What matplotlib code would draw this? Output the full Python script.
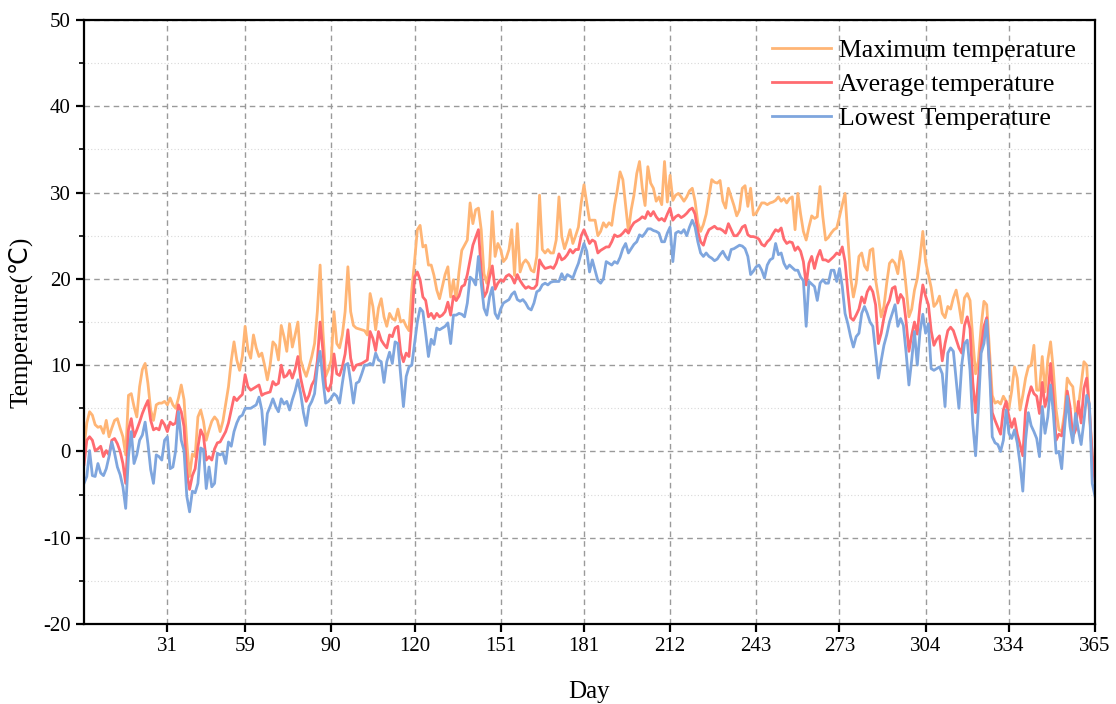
import numpy as np
import matplotlib.pyplot as plt
from matplotlib.ticker import MultipleLocator

# Daily temperatures over one year (day 1 .. 365)
days = np.arange(1, 366)

max_temp = [
    0.5, 3.3, 4.6, 4.2, 3.1, 2.8, 2.9, 2.1, 3.6, 1.7,
    2.7, 3.6, 3.8, 2.7, 1.7, -0.4, 6.5, 6.7, 5.2, 4.0,
    7.5, 9.5, 10.2, 7.9, 4.8, 3.6, 5.4, 5.6, 5.6, 5.8,
    5.4, 6.2, 5.4, 5.0, 6.2, 7.7, 6.0, 1.0, -2.9, -0.3,
    -0.6, 4.0, 4.8, 3.5, 1.3, 2.5, 3.5, 4.0, 3.6, 2.3,
    3.5, 5.5, 7.5, 10.5, 12.7, 10.6, 9.4, 11.0, 14.5, 11.8,
    10.8, 13.5, 12.0, 11.0, 11.4, 10.0, 8.3, 10.0, 12.7, 12.3,
    10.6, 14.6, 13.3, 11.6, 14.8, 12.1, 13.5, 15.0, 10.6, 9.5,
    8.7, 9.8, 11.0, 12.5, 16.2, 21.6, 14.0, 8.7, 9.5, 10.6,
    16.2, 12.5, 12.0, 13.5, 16.2, 21.4, 16.2, 14.6, 14.3, 14.2,
    14.1, 14.0, 13.5, 18.3, 16.8, 14.1, 16.6, 17.7, 15.6, 14.5,
    16.0, 15.4, 15.2, 16.5, 15.0, 15.2, 14.5, 14.0, 18.7, 22.0,
    25.7, 26.2, 23.7, 23.9, 21.6, 21.6, 20.4, 18.7, 17.7, 19.1,
    20.5, 21.4, 17.9, 19.9, 17.5, 20.8, 23.3, 23.9, 24.5, 28.8,
    26.4, 28.0, 28.2, 25.7, 20.6, 19.5, 21.4, 27.8, 22.6, 24.1,
    23.4, 22.0, 22.4, 23.4, 25.7, 20.4, 26.4, 20.8, 21.8, 22.2,
    21.8, 21.0, 20.8, 22.6, 29.7, 23.4, 23.0, 23.4, 23.0, 23.0,
    24.5, 29.5, 24.9, 23.5, 24.5, 25.7, 24.1, 25.0, 26.0, 28.8,
    30.9, 28.8, 26.8, 26.8, 26.8, 25.0, 25.5, 26.5, 26.0, 26.5,
    26.2, 28.5, 30.3, 32.4, 31.5, 28.5, 25.5, 28.0, 29.7, 32.2,
    33.6, 30.5, 28.5, 33.0, 31.1, 30.5, 29.0, 29.5, 28.6, 33.6,
    28.9, 32.0, 29.1, 29.7, 29.9, 29.5, 29.0, 29.5, 30.2, 30.5,
    29.0, 26.5, 25.5, 26.3, 27.5, 29.5, 31.5, 31.2, 31.1, 31.4,
    29.0, 28.2, 30.5, 29.5, 28.5, 27.3, 28.0, 30.5, 30.8, 28.4,
    30.5, 27.4, 27.6, 28.2, 28.8, 28.8, 28.6, 28.8, 28.9, 29.1,
    29.5, 29.0, 29.3, 28.8, 29.3, 29.5, 25.7, 29.9, 27.5, 25.5,
    24.5, 26.0, 27.3, 27.0, 27.2, 30.7, 27.2, 24.5, 24.8, 25.3,
    25.7, 25.9, 27.2, 28.6, 29.9, 24.9, 20.2, 17.9, 19.5, 22.6,
    23.0, 21.5, 21.0, 23.3, 23.5, 19.9, 17.9, 15.6, 16.8, 19.5,
    21.8, 22.2, 21.8, 20.6, 23.2, 22.0, 19.0, 15.6, 16.5, 18.7,
    20.0, 22.5, 25.5, 22.0, 20.5, 19.0, 16.8, 17.2, 18.0, 16.0,
    15.5, 16.8, 16.5, 17.8, 18.7, 17.0, 14.9, 17.8, 18.3, 17.5,
    13.0, 9.0, 10.5, 14.5, 17.4, 17.0, 11.8, 6.5, 5.6, 5.8,
    5.5, 6.4, 5.8, 5.0, 7.0, 9.8, 8.5, 4.8, 6.5, 8.5,
    9.8, 10.0, 12.3, 7.1, 7.1, 11.0, 6.9, 10.6, 12.7, 9.4,
    4.8, 2.5, 2.3, 4.4, 8.5, 7.9, 7.5, 4.4, 5.2, 7.7,
    10.4, 10.0, 4.4, -0.5, -1.2,
]

avg_temp = [
    -1.5, 1.3, 1.7, 1.3, 0.1, 0.3, 0.6, -0.6, 0.1, -0.4,
    1.3, 1.5, 0.9, 0.0, -1.4, -3.7, 2.5, 3.8, 1.7, 2.5,
    3.4, 4.4, 5.2, 5.9, 3.6, 2.5, 2.7, 2.5, 3.6, 3.1,
    2.3, 3.4, 3.1, 3.3, 5.4, 4.6, 2.9, -2.5, -4.4, -2.8,
    -2.0, 0.5, 2.5, 1.8, -1.0, -0.6, -1.0, 0.3, 1.0, 1.1,
    1.7, 2.3, 3.3, 4.8, 6.3, 5.9, 6.3, 6.6, 8.9, 7.5,
    7.1, 7.3, 7.5, 7.7, 6.5, 6.7, 6.8, 6.9, 8.1, 7.7,
    7.9, 10.0, 8.6, 8.8, 9.4, 8.5, 9.5, 11.0, 8.5, 7.0,
    5.8, 6.5, 7.7, 8.3, 10.5, 15.0, 11.7, 7.5, 7.0, 7.9,
    11.3, 9.0, 8.8, 9.8, 11.3, 14.1, 10.8, 9.4, 10.0, 10.1,
    10.2, 10.4, 10.6, 13.9, 13.1, 11.7, 13.9, 12.9, 12.4, 12.0,
    13.5, 13.3, 14.3, 14.5, 11.5, 10.4, 11.4, 11.0, 15.0, 20.2,
    20.8, 19.9, 17.9, 17.5, 15.6, 16.0, 15.4, 16.0, 15.6, 15.8,
    16.2, 17.3, 15.8, 18.0, 17.5, 18.0, 19.1, 19.3, 20.5, 22.2,
    23.9, 24.8, 25.7, 21.0, 17.9, 18.5, 20.2, 21.5, 18.8, 19.5,
    19.9, 19.7, 20.3, 20.5, 20.2, 19.5, 20.5, 19.8, 19.3, 18.9,
    19.1, 18.9, 18.9, 19.3, 22.2, 21.6, 21.2, 21.3, 21.4, 21.2,
    21.8, 22.9, 22.2, 22.4, 22.8, 23.4, 23.0, 23.4, 23.4, 25.0,
    25.7, 24.9, 24.1, 24.5, 24.3, 23.0, 23.3, 23.5, 23.7, 23.7,
    24.3, 25.1, 24.9, 25.0, 25.3, 25.7, 25.3, 26.0, 26.5, 26.7,
    26.9, 27.2, 27.0, 27.8, 27.3, 27.8, 27.2, 26.8, 27.0, 26.7,
    27.5, 28.2, 26.8, 27.2, 27.4, 27.1, 27.3, 27.6, 28.0, 28.2,
    27.5, 25.5, 24.3, 23.9, 25.0, 25.7, 25.9, 26.1, 25.8, 25.8,
    25.6, 25.3, 26.4, 25.7, 25.0, 25.0, 25.4, 26.0, 26.2, 25.1,
    24.9, 24.9, 24.8, 24.6, 24.0, 23.8, 24.3, 24.6, 25.2, 25.7,
    25.5, 25.9, 24.6, 24.1, 24.3, 24.2, 23.3, 23.7, 23.2, 22.0,
    19.3, 21.8, 22.6, 21.2, 22.5, 23.3, 22.2, 22.2, 22.0, 22.3,
    22.6, 23.0, 22.8, 23.7, 22.0, 18.5, 15.5, 15.2, 15.8, 16.5,
    17.9, 17.2, 18.5, 19.1, 18.5, 17.0, 12.5, 13.7, 15.5, 16.8,
    17.5, 18.9, 19.1, 17.2, 18.2, 17.7, 15.0, 11.6, 13.5, 15.0,
    13.6, 17.0, 19.3, 18.0, 17.0, 14.0, 12.3, 13.0, 13.4, 10.5,
    12.5, 14.0, 14.4, 14.0, 13.0, 12.0, 11.4, 14.6, 15.6, 14.2,
    8.0, 4.5, 8.5, 12.0, 14.5, 15.5, 10.0, 4.5, 3.6, 2.8,
    2.0, 4.8, 5.8, 4.0, 2.8, 3.8, 2.0, 0.8, -0.5, 4.8,
    6.4, 7.5, 6.7, 6.4, 4.4, 8.0, 5.2, 6.4, 10.2, 6.2,
    1.3, 2.0, 1.8, 3.5, 7.0, 5.2, 1.7, 2.5, 5.8, 3.3,
    7.3, 8.5, 4.8, -0.5, -3.5,
]

min_temp = [
    -3.7, -2.9, 0.1, -2.8, -2.9, -1.4, -2.5, -2.8, -2.0, -0.6,
    1.1, -0.2, -1.8, -2.7, -4.1, -6.6, -0.6, 2.3, -1.4, -0.4,
    1.3, 1.9, 3.4, 0.9, -2.1, -3.7, -0.4, -0.6, -1.0, 1.3,
    1.7, -2.0, -1.8, 0.1, 4.6, 1.3, 0.1, -5.2, -7.0, -4.6,
    -4.8, -3.7, 0.4, 0.2, -4.3, -1.8, -4.1, -3.7, -0.2, -0.4,
    -0.2, -1.4, 1.1, 0.6, 2.3, 3.3, 4.0, 4.2, 5.0, 5.0,
    5.0, 5.2, 5.4, 6.3, 4.8, 0.8, 4.4, 5.2, 6.1, 5.2,
    4.6, 6.1, 5.5, 5.8, 4.8, 6.0, 7.0, 8.3, 6.7, 4.5,
    3.0, 5.2, 5.8, 6.7, 9.8, 11.6, 8.3, 5.6, 5.8, 6.2,
    6.7, 6.4, 5.6, 7.9, 10.0, 10.2, 8.1, 5.6, 7.9, 8.1,
    9.0, 10.0, 10.0, 10.2, 10.0, 11.4, 10.6, 10.4, 8.0, 10.4,
    11.5, 10.2, 12.7, 12.5, 8.8, 5.2, 8.7, 9.8, 10.0, 12.5,
    15.0, 16.6, 16.2, 13.7, 11.0, 13.0, 12.4, 14.3, 14.1, 14.3,
    14.5, 14.9, 12.5, 15.8, 15.8, 16.0, 15.9, 15.6, 17.2, 20.2,
    19.9, 19.3, 22.6, 19.5, 16.6, 15.8, 17.9, 19.0, 16.0, 15.4,
    16.5, 17.2, 17.4, 17.6, 18.2, 18.5, 17.6, 17.4, 17.6, 17.2,
    16.6, 16.4, 17.2, 18.5, 18.7, 19.3, 19.5, 19.3, 19.6, 19.7,
    19.7, 19.7, 20.6, 19.9, 20.5, 20.3, 20.1, 21.0, 21.8, 23.0,
    24.1, 23.2, 20.8, 22.2, 21.0, 19.8, 19.5, 20.0, 22.0, 21.8,
    21.6, 22.0, 21.8, 22.5, 23.5, 24.1, 23.0, 23.5, 24.0, 24.3,
    25.1, 24.9, 25.3, 25.8, 25.8, 25.6, 25.5, 25.3, 24.3, 24.3,
    25.3, 26.0, 22.0, 25.3, 25.5, 25.3, 25.7, 25.0, 26.0, 26.8,
    26.0, 24.3, 23.0, 22.6, 23.0, 22.6, 22.4, 22.1, 22.3, 22.8,
    23.2, 22.6, 22.2, 23.4, 23.5, 23.7, 23.9, 23.8, 23.5, 22.6,
    20.5, 20.9, 21.4, 21.6, 21.0, 20.1, 21.6, 22.2, 22.4, 24.1,
    22.8, 23.0, 21.8, 21.2, 21.6, 21.3, 21.0, 21.0, 20.2, 19.8,
    14.5, 19.7, 19.4, 19.1, 17.5, 19.5, 19.9, 19.5, 19.5, 21.0,
    21.0, 19.7, 21.2, 19.1, 16.0, 14.8, 13.3, 12.1, 13.3, 13.7,
    16.0, 16.8, 16.0, 15.0, 14.5, 11.5, 8.5, 10.5, 12.3, 13.5,
    15.0, 16.0, 17.0, 14.5, 15.4, 14.6, 11.4, 7.7, 10.6, 13.9,
    10.0, 13.9, 15.9, 13.7, 14.8, 9.6, 9.4, 9.6, 9.8, 9.0,
    5.2, 11.4, 12.0, 11.6, 8.3, 5.0, 10.0, 12.5, 12.9, 9.4,
    3.2, -0.5, 5.0, 11.4, 12.5, 15.2, 9.8, 1.7, 1.0, 0.8,
    0.0, 1.3, 4.8, 2.1, 1.5, 2.5, 1.0, -1.4, -4.6, 1.3,
    4.5, 3.0, 2.3, 1.5, -0.6, 5.2, 2.1, 4.0, 7.7, 4.4,
    -0.2, 0.0, -2.0, 2.5, 6.4, 2.9, 1.0, 4.4, 2.5, 0.8,
    3.5, 6.5, 5.5, -3.7, -5.2,
]

month_ticks = [31, 59, 90, 120, 151, 181, 212, 243, 273, 304, 334, 365]

plt.rcParams["font.family"] = ["Liberation Serif", "DejaVu Sans"]
plt.rcParams["axes.unicode_minus"] = False

fig = plt.figure(figsize=(11.16, 7.04), dpi=100)
ax = fig.add_axes([0.0753, 0.1136, 0.9059, 0.858])

ax.plot(days, max_temp, color="#FFB575", lw=2.0, label="Maximum temperature")
ax.plot(days, avg_temp, color="#FF6B70", lw=2.0, label="Average temperature")
ax.plot(days, min_temp, color="#7FA6DE", lw=2.0, label="Lowest Temperature")

ax.set_xlim(1, 365)
ax.set_ylim(-20, 50)
ax.set_xticks(month_ticks)
ax.yaxis.set_major_locator(MultipleLocator(10))
ax.yaxis.set_minor_locator(MultipleLocator(5))

# dashed major grid, faint dotted minor grid
ax.grid(which="major", color="#9a9a9a", linestyle=(0, (4, 3)), linewidth=1.0)
ax.grid(which="minor", axis="y", color="#d8d8d8", linestyle=(0, (1, 2)), linewidth=0.8)
ax.set_axisbelow(True)

for side in ["left", "bottom", "top", "right"]:
    ax.spines[side].set_linewidth(1.6)
    ax.spines[side].set_color("black")

ax.tick_params(which="major", direction="out", length=6, width=1.6, labelsize=15)
ax.tick_params(which="minor", direction="out", length=3.5, width=1.2)
ax.tick_params(top=False, right=False)

ax.set_xlabel("Day", fontsize=18, labelpad=18)
ax.set_ylabel("Temperature(\u2103)", fontsize=18, labelpad=8)

ax.legend(loc="upper right", frameon=False, fontsize=18.5, handlelength=2.3,
          handletextpad=0.3, labelspacing=0.42, borderaxespad=0.35)

plt.savefig("out.png", dpi=100)
